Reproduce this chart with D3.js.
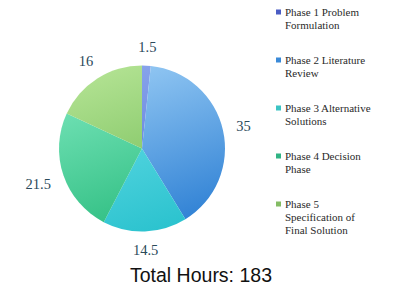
<!doctype html>
<html lang="en-US">
<head>
<meta charset="utf-8">
<title>Phase hours pie</title>
<script src="https://cdnjs.cloudflare.com/ajax/libs/d3/7.8.5/d3.min.js"></script>
<style>
  html, body { margin: 0; padding: 0; background: #fff; }
  svg { display: block; }
  .val { font: 14.5px "Liberation Serif", "DejaVu Serif", serif; fill: #2b4a5a; }
  .leg { font: 11px "Liberation Serif", "DejaVu Serif", serif; fill: #2a2a2a; }
  .total { font: 19.5px "Liberation Sans", Arial, sans-serif; fill: #111; }
</style>
</head>
<body>
<svg id="chart" width="400" height="292"></svg>
<script>
// data
var phases = ["Phase 1 Problem Formulation", "Phase 2 Literature Review",
              "Phase 3 Alternative Solutions", "Phase 4 Decision Phase",
              "Phase 5 Specification of Final Solution"];
var legendLines = [["Phase 1 Problem", "Formulation"],
                   ["Phase 2 Literature", "Review"],
                   ["Phase 3 Alternative", "Solutions"],
                   ["Phase 4 Decision", "Phase"],
                   ["Phase 5", "Specification of", "Final Solution"]];
var hours = [1.5, 35, 14.5, 21.5, 16];
var labels = ["1.5", "35", "14.5", "21.5", "16"];
var totalText = "Total Hours: 183";

// light (top) / dark (bottom) colour of each slice, plus legend swatch
var lightCol = ["#8aa6ec", "#96caf4", "#6ee0ea", "#7ae6bc", "#b2e292"];
var darkCol  = ["#5070d4", "#2e80d4", "#2ac2ce", "#28ba7c", "#6cb850"];
var swatch   = ["#4a5cc4", "#3a8ad8", "#3cc4c4", "#30b484", "#84bc64"];

var svg = d3.select("#chart");
var cx = 142, cy = 148.5, r = 83;

var defs = svg.append("defs");
phases.forEach(function(p, i) {
  var g = defs.append("linearGradient")
    .attr("id", "grad" + i)
    .attr("gradientUnits", "userSpaceOnUse")
    .attr("x1", -r * 0.35).attr("y1", -r)
    .attr("x2", r * 0.35).attr("y2", r);
  g.append("stop").attr("offset", "0%").attr("stop-color", lightCol[i]);
  g.append("stop").attr("offset", "100%").attr("stop-color", darkCol[i]);
});

var pie = d3.pie().sort(null).value(function(d) { return d; });
var arcs = pie(hours);
var arc = d3.arc().innerRadius(0).outerRadius(r);

var gp = svg.append("g").attr("transform", "translate(" + cx + "," + cy + ")");
gp.selectAll("path.slice")
  .data(arcs)
  .enter().append("path")
  .attr("class", "slice")
  .attr("d", arc)
  .attr("fill", function(d, i) { return "url(#grad" + i + ")"; });

// value labels just outside the rim
var lab = gp.selectAll("text.val")
  .data(arcs)
  .enter().append("text")
  .attr("class", "val")
  .attr("text-anchor", "middle")
  .attr("dominant-baseline", "central")
  .text(function(d, i) { return labels[i]; });

lab.each(function(d) {
  var w = this.getComputedTextLength();
  var a = (d.startAngle + d.endAngle) / 2;
  var s = Math.sin(a), c = -Math.cos(a);
  var rr = r + 13 + w / 2 * Math.abs(s) + 5 * Math.abs(c);
  d3.select(this).attr("x", rr * s).attr("y", rr * c);
});

// legend
var leg = svg.append("g").attr("transform", "translate(276,0)");
var entry = leg.selectAll("g.entry")
  .data(legendLines)
  .enter().append("g")
  .attr("class", "entry")
  .attr("transform", function(d, i) { return "translate(0," + (i * 48) + ")"; });

entry.append("rect")
  .attr("x", 0).attr("y", 9.5)
  .attr("width", 5).attr("height", 5)
  .attr("fill", function(d, i) { return swatch[i]; });

entry.selectAll("text")
  .data(function(d) { return d; })
  .enter().append("text")
  .attr("class", "leg")
  .attr("x", 9)
  .attr("y", function(d, j) { return 16 + j * 13; })
  .text(function(d) { return d; });

svg.append("text")
  .attr("class", "total")
  .attr("x", 201).attr("y", 282)
  .attr("text-anchor", "middle")
  .text(totalText);
</script>
</body>
</html>
